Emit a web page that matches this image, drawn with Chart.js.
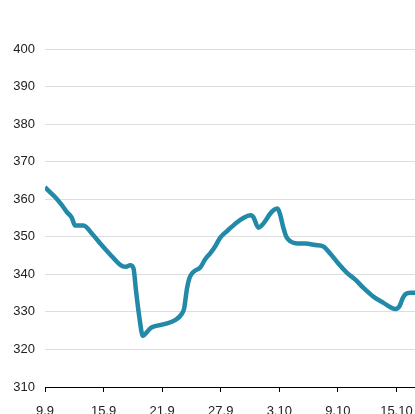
<!DOCTYPE html>
<html>
<head>
<meta charset="utf-8">
<script src="https://cdn.jsdelivr.net/npm/chart.js@4.4.1/dist/chart.umd.min.js"></script>
<style>
  html, body { margin: 0; padding: 0; background: #fff; overflow: hidden; width: 415px; height: 414px; }
  #wrap { position: absolute; left: 0; top: -29px; width: 455px; height: 470px; }
</style>
</head>
<body>
<div id="wrap"><canvas id="c"></canvas></div>
<script>
// Days since 9.9 (x) and price (y)
const days = [0, 0.51, 1.03, 1.71, 2.23, 2.74, 3.08, 3.93, 4.95, 5.64, 6.67, 7.38, 7.9, 8.31, 8.72, 9.06, 9.33, 9.67, 10.02, 10.43, 10.77, 11.28, 12.31, 13.33, 14.02, 14.26, 14.53, 14.77, 15.05, 15.38, 15.9, 16.41, 16.92, 17.44, 17.95, 18.77, 19.49, 20.31, 21.03, 21.33, 21.87, 22.26, 22.56, 23.08, 23.42, 23.83, 24.1, 24.41, 24.72, 25.13, 25.64, 26.67, 27.69, 28.51, 29.23, 30.05, 30.94, 31.79, 32.65, 33.67, 34.67, 35.9, 36.31, 36.62, 36.92, 37.44, 38.46];
const prices = [363.2, 361.9, 360.6, 358.5, 356.6, 355.1, 353.0, 353.0, 350.4, 348.3, 345.3, 343.3, 342.2, 342.0, 342.4, 341.6, 335.5, 328.5, 323.6, 324.6, 325.6, 326.2, 326.8, 327.8, 329.5, 331.0, 336.0, 338.8, 340.2, 341.0, 341.8, 344.0, 345.6, 347.5, 349.8, 351.8, 353.5, 355.0, 355.7, 355.3, 352.4, 353.2, 354.2, 356.2, 357.1, 357.5, 355.8, 352.5, 350.0, 348.8, 348.3, 348.2, 347.8, 347.4, 345.5, 342.9, 340.4, 338.6, 336.3, 334.0, 332.4, 330.8, 331.5, 333.5, 334.7, 335.1, 335.1];
const xTickLabels = ["9.9", "15.9", "21.9", "27.9", "3.10", "9.10", "15.10"];
const titleText = "Average daily price";

const points = days.map((d, i) => ({ x: d, y: prices[i] }));

new Chart(document.getElementById('c'), {
  type: 'line',
  data: {
    datasets: [{
      data: points,
      borderColor: '#2289a8',
      borderWidth: 4.5,
      pointRadius: 0,
      tension: 0.3,
      cubicInterpolationMode: 'monotone',
      fill: false
    }]
  },
  options: {
    responsive: true,
    maintainAspectRatio: false,
    animation: false,
    layout: { padding: { top: 0, right: 0, bottom: 0, left: 0 } },
    plugins: {
      legend: { display: false },
      tooltip: { enabled: false },
      title: {
        display: true,
        text: titleText,
        color: '#000',
        font: { family: 'Liberation Sans, Arial, sans-serif', size: 16, weight: 'bold' },
        padding: { top: 12, bottom: 46.8 }
      }
    },
    scales: {
      x: {
        type: 'linear',
        min: 0,
        max: 42,
        afterFit: (s) => { s.height = 54; s.paddingRight = 0; },
        border: { display: true, color: '#000', width: 1 },
        grid: { drawOnChartArea: false, drawTicks: true, tickLength: 5, color: '#000' },
        ticks: {
          stepSize: 6,
          padding: 12,
          color: '#222',
          maxRotation: 0,
          font: { family: 'Liberation Sans, Arial, sans-serif', size: 13 },
          callback: (v) => xTickLabels[Math.round(v / 6)] || ''
        }
      },
      y: {
        min: 310,
        max: 400,
        afterFit: (s) => { s.width = 45; },
        border: { display: false },
        grid: { color: '#dddddd', lineWidth: 1, drawTicks: false },
        ticks: {
          stepSize: 10,
          padding: 10,
          color: '#222',
          font: { family: 'Liberation Sans, Arial, sans-serif', size: 13 }
        }
      }
    }
  }
});
</script>
</body>
</html>
